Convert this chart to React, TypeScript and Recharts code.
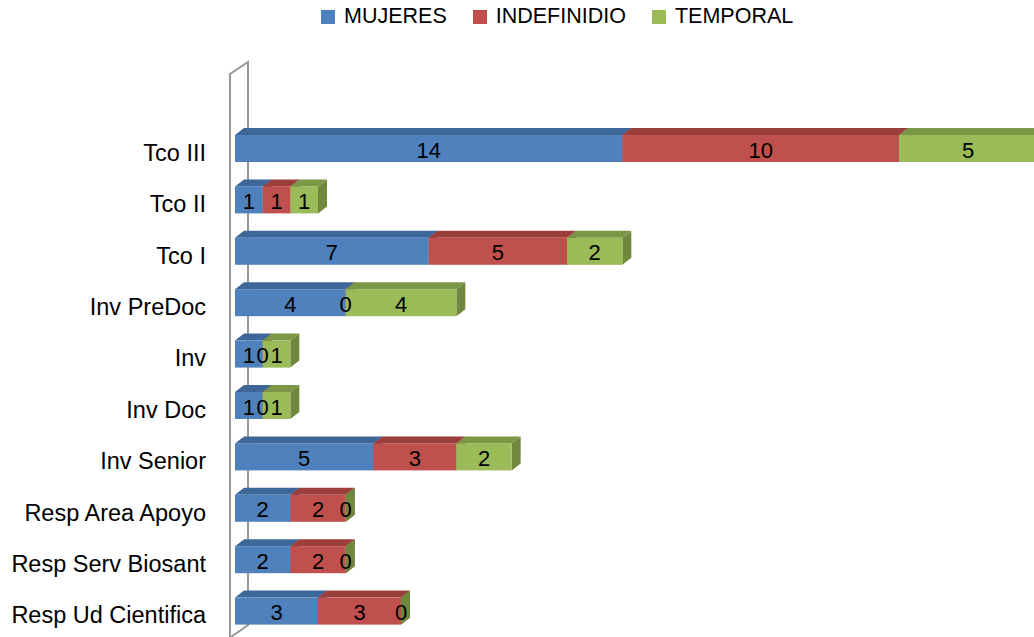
import { BarChart, Bar, XAxis, YAxis, LabelList, Customized } from "recharts";

const categories = [
  "Tco III",
  "Tco II",
  "Tco I",
  "Inv PreDoc",
  "Inv",
  "Inv Doc",
  "Inv Senior",
  "Resp Area Apoyo",
  "Resp Serv Biosant",
  "Resp Ud Cientifica",
];
const mujeres = [14, 1, 7, 4, 1, 1, 5, 2, 2, 3];
const indefinidio = [10, 1, 5, 0, 0, 0, 3, 2, 2, 3];
const temporal = [5, 1, 2, 4, 1, 1, 2, 0, 0, 0];

const series = [
  { key: "MUJERES", values: mujeres, front: "#4F81BD", top: "#3D6798", side: "#375D8A" },
  { key: "INDEFINIDIO", values: indefinidio, front: "#C0504D", top: "#9C3E3C", side: "#8E3836" },
  { key: "TEMPORAL", values: temporal, front: "#9BBB59", top: "#7B9646", side: "#6F883E" },
];

const data = categories.map((name, i) => {
  const row: Record<string, string | number> = { name };
  series.forEach((s) => (row[s.key] = s.values[i]));
  return row;
});

const FONT = "'Liberation Sans', Arial, sans-serif";
const DX = 9;
const DY = 7;
const LEFT = 235;
const TOP = 123;
const HEIGHT = 640;
const BOTTOM = 3;

// bar block with a top face and a right face, like the old 3d office charts
function makeShape(s: (typeof series)[number]) {
  return (props: any) => {
    const { x, y, width, height } = props;
    const w = Math.max(width || 0, 0);
    return (
      <g>
        <polygon
          points={`${x + w},${y} ${x + w + DX},${y - DY} ${x + w + DX},${y + height - DY} ${x + w},${y + height}`}
          fill={s.side}
        />
        {w > 0 && (
          <>
            <polygon
              points={`${x},${y} ${x + DX},${y - DY} ${x + w + DX},${y - DY} ${x + w},${y}`}
              fill={s.top}
            />
            <rect x={x} y={y} width={w} height={height} fill={s.front} />
          </>
        )}
      </g>
    );
  };
}

function Wall() {
  const fx = LEFT - 5;
  const bx = LEFT + 13;
  const bottom = HEIGHT - BOTTOM;
  return (
    <g stroke="#979797" strokeWidth={2} fill="none">
      <polyline points={`${fx},${bottom + 2} ${fx},${TOP - 49} ${bx},${TOP - 61} ${bx},${bottom - 12} ${fx + 1},${bottom}`} />
    </g>
  );
}

function CategoryTick(props: any) {
  const { x, y, payload } = props;
  return (
    <text x={x} y={y + 12} textAnchor="end" fontSize={23.5} fontFamily={FONT} fill="#000">
      {payload.value}
    </text>
  );
}

function ValueLabel(props: any) {
  const { x, y, width, height, value } = props;
  return (
    <text
      x={x + width / 2}
      y={y + height / 2 + 9}
      textAnchor="middle"
      fontSize={22}
      fontFamily={FONT}
      fill="#000"
    >
      {value}
    </text>
  );
}

export default function App() {
  return (
    <div
      style={{
        position: "absolute",
        left: 0,
        top: 0,
        width: 1034,
        height: 637,
        overflow: "hidden",
        background: "#fff",
      }}
    >
      <div
        style={{
          position: "absolute",
          top: 4,
          left: 321,
          display: "flex",
          alignItems: "center",
          fontFamily: FONT,
          fontSize: 21.5,
          whiteSpace: "nowrap",
        }}
      >
        {series.map((s) => (
          <div key={s.key} style={{ display: "flex", alignItems: "center", marginRight: 26 }}>
            <span style={{ width: 14, height: 14, background: s.front, marginRight: 9 }} />
            <span>{s.key}</span>
          </div>
        ))}
      </div>
      <BarChart
        width={1075}
        height={HEIGHT}
        data={data}
        layout="vertical"
        margin={{ top: TOP, right: 10, bottom: BOTTOM, left: 0 }}
        barSize={27}
      >
        <Customized component={<Wall />} />
        <XAxis type="number" domain={[0, 30]} hide />
        <YAxis
          type="category"
          dataKey="name"
          width={LEFT}
          tickLine={false}
          axisLine={false}
          tickSize={0}
          tickMargin={29}
          tick={<CategoryTick />}
          interval={0}
        />
        {series.map((s) => (
          <Bar
            key={s.key}
            dataKey={s.key}
            stackId="a"
            fill={s.front}
            shape={makeShape(s)}
            isAnimationActive={false}
          >
            <LabelList dataKey={s.key} content={<ValueLabel />} />
          </Bar>
        ))}
      </BarChart>
    </div>
  );
}
